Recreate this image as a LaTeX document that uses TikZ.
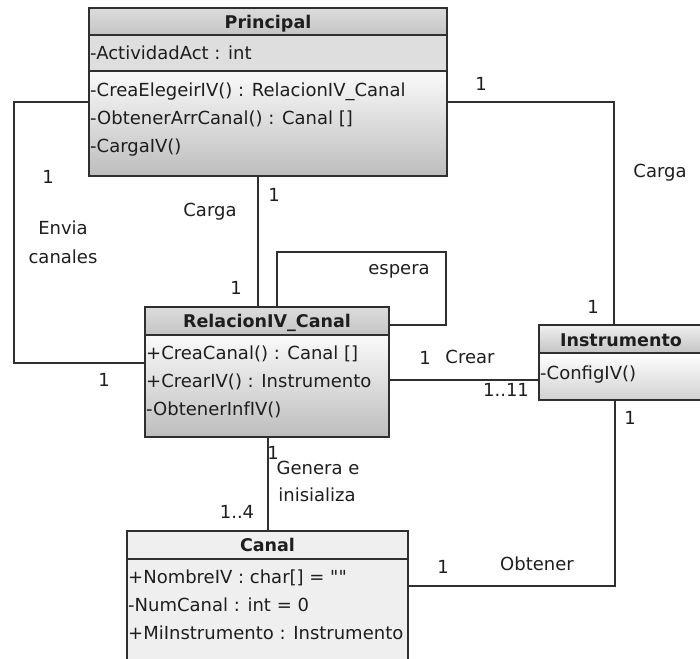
\documentclass[tikz,border=0pt]{standalone}
\usepackage{fontspec}
\setmainfont{DejaVu Sans}[Ligatures=TeXOff]
\usetikzlibrary{shadings}

\definecolor{edge}{HTML}{2F2F2F}
\definecolor{ink}{HTML}{1E1E1E}
\definecolor{hdtop}{HTML}{DCDCDC}
\definecolor{hdbot}{HTML}{C4C4C4}
\definecolor{attrgray}{HTML}{DEDEDE}
\definecolor{bodytop}{HTML}{FAFAFA}
\definecolor{bodybot}{HTML}{BDBDBD}
\definecolor{flatgray}{HTML}{EFEFEF}

\begin{document}
\begin{tikzpicture}[x=1pt,y=-1pt,
  box/.style={draw=edge, line width=1.3pt, rectangle, anchor=north west,
              inner sep=0pt, outer sep=0pt},
  header/.style={box, top color=hdtop, bottom color=hdbot},
  attrbox/.style={box, fill=attrgray},
  body/.style={box, top color=bodytop, bottom color=bodybot},
  flat/.style={box, fill=flatgray},
  link/.style={draw=edge, line width=1.3pt},
  member/.style={anchor=base west, inner sep=0pt, text=ink,
                 font=\fontsize{18}{21}\selectfont},
  title/.style={anchor=base, inner sep=0pt, text=ink,
                font=\fontsize{17.5}{21}\selectfont\bfseries},
  lbl/.style={anchor=base, inner sep=0pt, text=ink,
              font=\fontsize{18}{21}\selectfont},
]
\useasboundingbox (0,0) rectangle (700,658);
\clip (0,0) rectangle (700,658);

% ---------- class boxes ----------
% Principal
\node[header,  minimum width=358pt, minimum height=27pt]  (prH) at (89,8) {};
\node[attrbox, minimum width=358pt, minimum height=36pt]  (prA) at (89,35) {};
\node[body,    minimum width=358pt, minimum height=105pt] (prM) at (89,71) {};
% RelacionIV_Canal
\node[header, minimum width=244pt, minimum height=28pt]  (relH) at (145,307) {};
\node[body,   minimum width=244pt, minimum height=102pt] (relB) at (145,335) {};
% Instrumento
\node[box, top color=white!94!black, bottom color=hdbot,
      minimum width=165pt, minimum height=28pt] (inH) at (539,325) {};
\node[body, top color=white, bottom color=white!82!black,
      minimum width=165pt, minimum height=47pt] (inB) at (539,353) {};
% Canal
\node[flat, minimum width=281pt, minimum height=28pt]  (caH) at (127,531) {};
\node[flat, minimum width=281pt, minimum height=110pt] (caB) at (127,559) {};

% ---------- associations ----------
\draw[link] (prM.west |- 0,102) -- (14,102) -- (14,363) -- (relB.west |- 0,363);
\draw[link] (prM.south -| 258,0) -- (relH.north -| 258,0);
\draw[link] (relH.north -| 277,0) -- (277,252) -- (446,252) -- (446,325)
            -- (relH.east |- 0,325);
\draw[link] (prM.east |- 0,102) -- (614,102) -- (inH.north -| 614,0);
\draw[link] (relB.east |- 0,380) -- (inB.west |- 0,380);
\draw[link] (relB.south -| 268,0) -- (caH.north -| 268,0);
\draw[link] (inB.south -| 615,0) -- (615,586) -- (caB.east |- 0,586);

% ---------- class texts ----------
\node[title]  (prT)  at (268,28.3) {Principal};
\node[member] (prA1) at (90,59.5)  {-ActividadAct : int};
\node[member] (prM1) at (90,96.5)  {-CreaElegeirIV() : RelacionIV\_Canal};
\node[member] (prM2) at (90,124.5) {-ObtenerArrCanal() : Canal []};
\node[member] (prM3) at (90,152.5) {-CargaIV()};

\node[title]  (relT)  at (267,327.3) {RelacionIV\_Canal};
\node[member] (relM1) at (146,359.5) {+CreaCanal() : Canal []};
\node[member] (relM2) at (146,387.5) {+CrearIV() : Instrumento};
\node[member] (relM3) at (146,415.5) {-ObtenerInfIV()};

\node[title]  (inT)  at (621,346.3) {Instrumento};
\node[member] (inM1) at (540,379.5) {-ConfigIV()};

\node[title]  (caT)  at (267.5,551.3) {Canal};
\node[member] (caA1) at (128,583.5) {+NombreIV : char[] = ""};
\node[member] (caA2) at (128,611.5) {-NumCanal : int = 0};
\node[member] (caA3) at (128,639.5) {+MiInstrumento : Instrumento};

% ---------- association labels ----------
\node[lbl] (l1)  at (48,183.5)  {1};
\node[lbl] (l2)  at (63,234.5)  {Envia};
\node[lbl] (l3)  at (63,263.5)  {canales};
\node[lbl] (l4)  at (104,386.5) {1};
\node[lbl] (l5)  at (210,216.5) {Carga};
\node[lbl] (l6)  at (274,201.5) {1};
\node[lbl] (l7)  at (236,294.5) {1};
\node[lbl] (l8)  at (399,274.5) {espera};
\node[lbl] (l9)  at (481,90.5)  {1};
\node[lbl] (l10) at (660,177.5) {Carga};
\node[lbl] (l11) at (593,313.5) {1};
\node[lbl] (l12) at (425,364.5) {1};
\node[lbl] (l13) at (470,363.5) {Crear};
\node[lbl] (l14) at (506,396.5) {1..11};
\node[lbl] (l15) at (273,459.5) {1};
\node[lbl] (l16) at (318,474.5) {Genera e};
\node[lbl] (l17) at (317,501.5) {inisializa};
\node[lbl] (l18) at (237,518.5) {1..4};
\node[lbl] (l19) at (630,424.5) {1};
\node[lbl] (l20) at (443,573.5) {1};
\node[lbl] (l21) at (537,570.5) {Obtener};
\end{tikzpicture}
\end{document}
